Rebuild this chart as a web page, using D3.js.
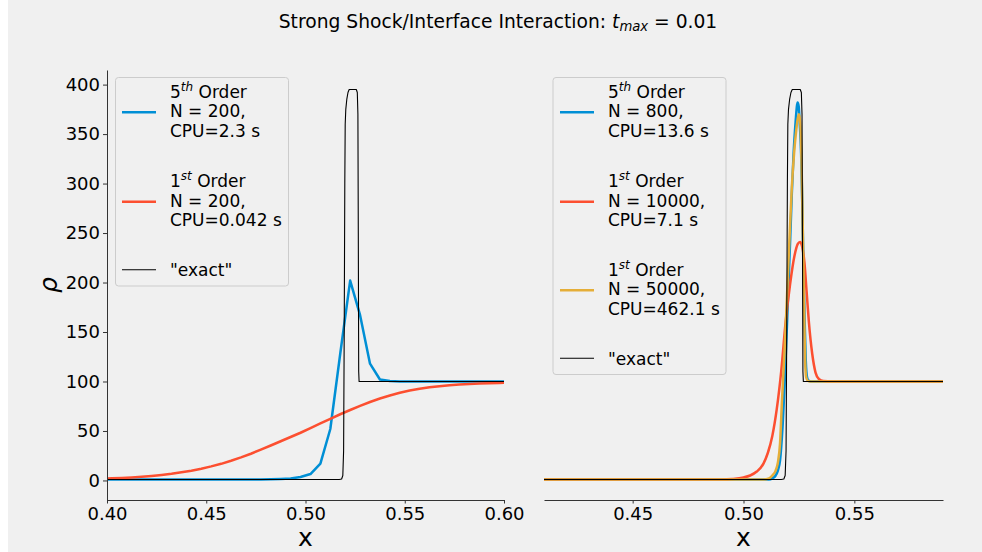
<!DOCTYPE html>
<html>
<head>
<meta charset="utf-8">
<script src="https://cdn.jsdelivr.net/npm/d3@7"></script>
<style>
  html, body { margin: 0; padding: 0; background: #f0f0f0; }
  svg { display: block; }
  text { font-family: "DejaVu Sans", sans-serif; fill: #000; }
</style>
</head>
<body>
<svg id="chart" width="982" height="552"></svg>
<script>
// ---- tick values ----
const leftXTicks = [0.40, 0.45, 0.50, 0.55, 0.60];
const rightXTicks = [0.45, 0.50, 0.55];
const yTicks = [0, 50, 100, 150, 200, 250, 300, 350, 400];

// ---- "exact" density profile ----
const exactX =   [0.395, 0.5170, 0.5182, 0.5188, 0.5192, 0.5195, 0.5198, 0.5200, 0.5203, 0.5208, 0.5214, 0.5220, 0.5256, 0.5261, 0.5264, 0.5266, 0.5268, 0.5270, 0.605];
const exactRho = [1,     1,      1.5,    5,      30,     150,    300,    360,    375,    385,    392,    395,    395,    392,    370,    250,    110,    100,    100];

// ---- 5th order, N = 200 ----
const fifth200X =   [0.3975, 0.4025, 0.4075, 0.4125, 0.4175, 0.4225, 0.4275, 0.4325, 0.4375, 0.4425, 0.4475, 0.4525, 0.4575, 0.4625, 0.4675, 0.4725, 0.4775, 0.4825, 0.4875, 0.4925, 0.4975, 0.5025, 0.5075, 0.5125, 0.5175, 0.5225, 0.5275, 0.5325, 0.5375, 0.5425, 0.5475, 0.5525, 0.5575, 0.5625, 0.5675, 0.5725, 0.5775, 0.5825, 0.5875, 0.5925, 0.5975, 0.6025];
const fifth200Rho = [1,      1,      1,      1,      1,      1,      1,      1,      1,      1,      1,      1,      1,      1,      1,      1,      1,      1.2,    1.5,    2,      3.5,    6.5,    17,     52,     128,    202,    167,    118,    102,    100.5,  100,    100,    100,    100,    100,    100,    100,    100,    100,    100,    100,    100];

// ---- 1st order, N = 200 ----
const first200X =   [0.3975, 0.4025, 0.4075, 0.4125, 0.4175, 0.4225, 0.4275, 0.4325, 0.4375, 0.4425, 0.4475, 0.4525, 0.4575, 0.4625, 0.4675, 0.4725, 0.4775, 0.4825, 0.4875, 0.4925, 0.4975, 0.5025, 0.5075, 0.5125, 0.5175, 0.5225, 0.5275, 0.5325, 0.5375, 0.5425, 0.5475, 0.5525, 0.5575, 0.5625, 0.5675, 0.5725, 0.5775, 0.5825, 0.5875, 0.5925, 0.5975, 0.6025];
const first200Rho = [1.8,    2.2,    2.6,    3.1,    3.7,    4.5,    5.5,    6.7,    8.2,    9.9,    11.9,   14.2,   16.8,   19.9,   23.3,   27.0,   31.1,   35.3,   39.6,   43.9,   48.2,   52.9,   57.6,   62.3,   66.9,   71.2,   75.4,   79.3,   82.8,   85.9,   88.6,   90.8,   92.6,   94.1,   95.3,   96.2,   96.9,   97.5,   97.9,   98.3,   98.6,   98.8];

// ---- 5th order, N = 800 ----
const fifth800X =   [0.405, 0.5100, 0.5115, 0.5130, 0.5145, 0.5155, 0.5165, 0.5175, 0.5188, 0.5200, 0.5211, 0.5218, 0.5226, 0.5235, 0.5244, 0.5249, 0.5254, 0.5260, 0.5266, 0.5271, 0.5276, 0.5281, 0.5287, 0.5293, 0.5300, 0.5310, 0.595];
const fifth800Rho = [1,     1,      1,      2,      5,      10,     20.5,   50,     111,    180,    246,    290,    330,    362,    382,    378,    360,    330,    270,    212,    160,    121,    104,    101,    100.3,  100,    100];

// ---- 1st order, N = 10000 ----
const first10000X =   [0.405, 0.4900, 0.4950, 0.5000, 0.5030, 0.5060, 0.5090, 0.5110, 0.5130, 0.5150, 0.5170, 0.5190, 0.5210, 0.5230, 0.5245, 0.5255, 0.5265, 0.5275, 0.5285, 0.5295, 0.5310, 0.5325, 0.5340, 0.5360, 0.5400, 0.595];
const first10000Rho = [1,     1,      1.5,    3,      5,      9,      17,     28,     45,     72,     110,    160,    198,    227,    239,    241,    236,    220,    190,    160,    128,    109,    102.5,  100.5,  100,    100];

// ---- 1st order, N = 50000 ----
const first50000X =   [0.405, 0.5090, 0.5115, 0.5130, 0.5145, 0.5155, 0.5165, 0.5173, 0.5185, 0.5196, 0.5207, 0.5218, 0.5228, 0.5238, 0.5245, 0.5250, 0.5256, 0.5262, 0.5268, 0.5273, 0.5278, 0.5283, 0.5290, 0.5300, 0.595];
const first50000Rho = [1,     1,      2,      5,      10,     18,     38,     78,     130,    185,    242,    296,    330,    354,    366,    370,    362,    320,    246,    180,    121,    104,    100.8,  100,    100];

// ---- legend labels ----
const leftLegend = [
  { color: "#008fd5", width: 2.5, sup: ["5", "th"], lines: ["N = 200,", "CPU=2.3 s"] },
  { color: "#fc4f30", width: 2.5, sup: ["1", "st"], lines: ["N = 200,", "CPU=0.042 s"] },
  { color: "#000000", width: 1.1, text: "\"exact\"" }
];
const rightLegend = [
  { color: "#008fd5", width: 2.5, sup: ["5", "th"], lines: ["N = 800,", "CPU=13.6 s"] },
  { color: "#fc4f30", width: 2.5, sup: ["1", "st"], lines: ["N = 10000,", "CPU=7.1 s"] },
  { color: "#e5ae38", width: 2.5, sup: ["1", "st"], lines: ["N = 50000,", "CPU=462.1 s"] },
  { color: "#000000", width: 1.1, text: "\"exact\"" }
];

const svg = d3.select("#chart");
svg.append("rect").attr("width", 982).attr("height", 552).attr("fill", "#f0f0f0");
// white page margin along the left edge of the figure
svg.append("rect").attr("x", 0).attr("y", 0).attr("width", 8).attr("height", 552).attr("fill", "#ffffff");

// shared vertical layout
const plotTop = 70, plotBottom = 500;
const y = d3.scaleLinear().domain([-19.75, 414.75]).range([plotBottom, plotTop]);

const panels = [
  { id: "L", x0: 107, x1: 504, domain: [0.40, 0.60], ticks: leftXTicks, yAxis: true,
    series: [
      { xs: fifth200X, ys: fifth200Rho, color: "#008fd5", w: 2.5, curve: d3.curveLinear },
      { xs: first200X, ys: first200Rho, color: "#fc4f30", w: 2.5, curve: d3.curveLinear },
      { xs: exactX, ys: exactRho, color: "#000000", w: 1.1, curve: d3.curveLinear }
    ],
    legend: { items: leftLegend, box: [115.5, 77.5, 173, 208.5], hx: [122, 156], tx: 170, hy: [112.3, 201.7, 269.7] } },
  { id: "R", x0: 544, x1: 943, domain: [0.41, 0.59], ticks: rightXTicks, yAxis: false,
    series: [
      { xs: fifth800X, ys: fifth800Rho, color: "#008fd5", w: 2.5, curve: d3.curveMonotoneX },
      { xs: first10000X, ys: first10000Rho, color: "#fc4f30", w: 2.5, curve: d3.curveMonotoneX },
      { xs: first50000X, ys: first50000Rho, color: "#e5ae38", w: 2.5, curve: d3.curveMonotoneX },
      { xs: exactX, ys: exactRho, color: "#000000", w: 1.1, curve: d3.curveLinear }
    ],
    legend: { items: rightLegend, box: [553, 77.5, 173, 297], hx: [560, 594], tx: 608, hy: [112.3, 201.7, 290.3, 358.3] } }
];

panels.forEach(p => {
  const x = d3.scaleLinear().domain(p.domain).range([p.x0, p.x1]);
  const g = svg.append("g");

  g.append("clipPath").attr("id", "clip" + p.id)
    .append("rect").attr("x", p.x0).attr("y", plotTop).attr("width", p.x1 - p.x0).attr("height", plotBottom - plotTop);

  const plot = g.append("g").attr("clip-path", `url(#clip${p.id})`);
  p.series.forEach(s => {
    const pts = s.xs.map((v, i) => [v, s.ys[i]]);
    plot.append("path")
      .attr("d", d3.line().x(d => x(d[0])).y(d => y(d[1])).curve(s.curve)(pts))
      .attr("fill", "none").attr("stroke", s.color).attr("stroke-width", s.w)
      .attr("stroke-linejoin", "round").attr("stroke-linecap", "butt");
  });

  // x axis
  const xa = g.append("g").attr("transform", `translate(0,${plotBottom})`)
    .call(d3.axisBottom(x).tickValues(p.ticks).tickFormat(d3.format(".2f")).tickSizeInner(3.5).tickSizeOuter(0).tickPadding(4));
  xa.select(".domain").attr("stroke", "#333").attr("stroke-width", 1);
  xa.selectAll(".tick line").attr("stroke", "#333");
  xa.selectAll(".tick text").attr("font-size", 18).attr("font-family", "DejaVu Sans").attr("fill", "#000");

  g.append("text").attr("x", (p.x0 + p.x1) / 2).attr("y", 546)
    .attr("text-anchor", "middle").attr("font-size", 25).text("x");

  if (p.yAxis) {
    const ya = g.append("g").attr("transform", `translate(${p.x0},0)`)
      .call(d3.axisLeft(y).tickValues(yTicks).tickFormat(d3.format("d")).tickSizeInner(4).tickSizeOuter(0).tickPadding(3));
    ya.select(".domain").attr("stroke", "#333").attr("stroke-width", 1);
    ya.selectAll(".tick line").attr("stroke", "#333");
    ya.selectAll(".tick text").attr("font-size", 18).attr("font-family", "DejaVu Sans").attr("fill", "#000");

    g.append("text").attr("transform", `translate(57,${(plotTop + plotBottom) / 2}) rotate(-90)`)
      .attr("text-anchor", "middle").attr("font-size", 25).attr("font-style", "italic").text("ρ");
  }

  // legend
  const L = p.legend;
  const lg = g.append("g");
  lg.append("rect").attr("x", L.box[0]).attr("y", L.box[1]).attr("width", L.box[2]).attr("height", L.box[3])
    .attr("rx", 3).attr("fill", "#f0f0f0").attr("stroke", "#cccccc").attr("stroke-width", 1);
  L.items.forEach((it, i) => {
    const hy = L.hy[i];
    lg.append("line").attr("x1", L.hx[0]).attr("x2", L.hx[1]).attr("y1", hy).attr("y2", hy)
      .attr("stroke", it.color).attr("stroke-width", it.width);
    if (it.text) {
      lg.append("text").attr("x", L.tx).attr("y", hy + 6.3).attr("font-size", 17).text(it.text);
    } else {
      const base = hy + 5;
      const t1 = lg.append("text").attr("x", L.tx).attr("y", base - 19.25).attr("font-size", 17);
      t1.append("tspan").text(it.sup[0]);
      t1.append("tspan").attr("font-size", 12).attr("font-style", "italic").attr("dy", -7).text(it.sup[1]);
      t1.append("tspan").attr("dy", 7).text(" Order");
      lg.append("text").attr("x", L.tx).attr("y", base).attr("font-size", 17).text(it.lines[0]);
      lg.append("text").attr("x", L.tx).attr("y", base + 19.25).attr("font-size", 17).text(it.lines[1]);
    }
  });
});

// title
const title = svg.append("text").attr("x", 498).attr("y", 27.5).attr("text-anchor", "middle").attr("font-size", 18.7);
title.append("tspan").text("Strong Shock/Interface Interaction: ");
title.append("tspan").attr("font-style", "italic").text("t");
title.append("tspan").attr("font-style", "italic").attr("font-size", 13.2).attr("dy", 3.2).text("max");
title.append("tspan").attr("dy", -3.2).text(" = 0.01");
</script>
</body>
</html>
